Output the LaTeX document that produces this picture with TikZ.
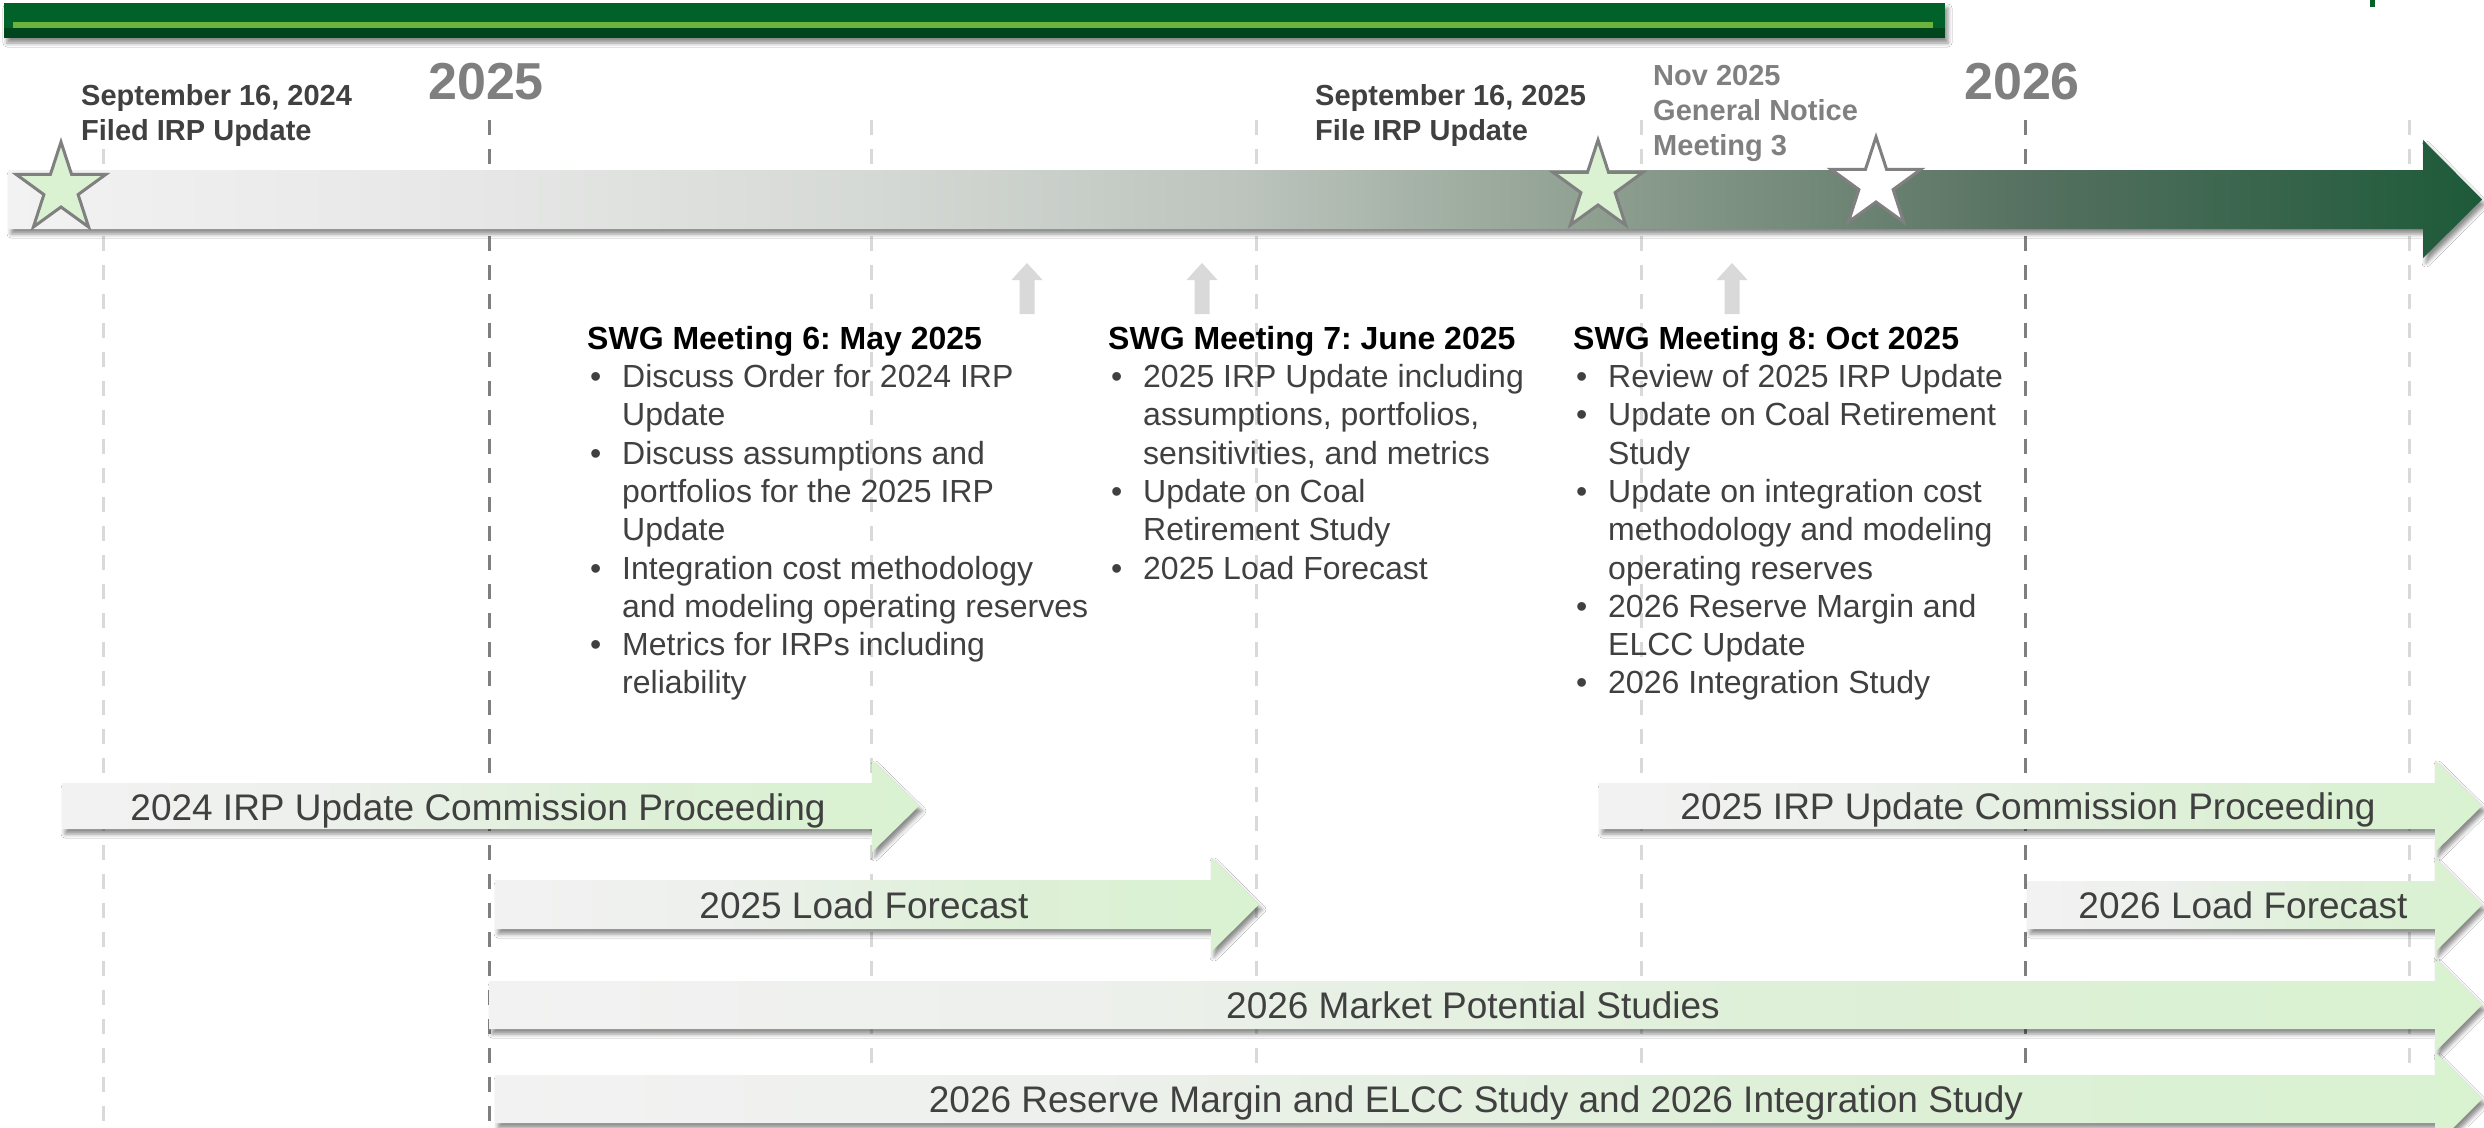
\documentclass[tikz,border=0pt]{standalone}
\usepackage{fontspec}
\setmainfont{Liberation Sans}
\usetikzlibrary{shadows.blur}

% palette
\definecolor{bargreen}{RGB}{0,98,41}
\definecolor{barstripe}{RGB}{108,179,62}
\definecolor{barshade}{RGB}{0,70,29}
\definecolor{txtdark}{RGB}{64,64,64}
\definecolor{yeargray}{RGB}{127,127,127}
\definecolor{notegray}{RGB}{128,128,128}
\definecolor{gridlight}{RGB}{217,217,217}
\definecolor{griddark}{RGB}{127,127,127}
\definecolor{upgray}{RGB}{217,217,217}
\definecolor{starfill}{RGB}{218,242,210}
\definecolor{starline}{RGB}{128,128,128}
% timeline gradient stops
\definecolor{tlA}{RGB}{242,242,242}
\definecolor{tlB}{RGB}{229,230,229}
\definecolor{tlC}{RGB}{213,217,213}
\definecolor{tlD}{RGB}{188,196,189}
\definecolor{tlE}{RGB}{143,160,145}
\definecolor{tlF}{RGB}{85,112,96}
\definecolor{tlG}{RGB}{29,90,57}
% process bar gradient stops
\definecolor{prA}{RGB}{242,242,242}
\definecolor{prB}{RGB}{237,240,236}
\definecolor{prC}{RGB}{222,240,216}
\definecolor{prD}{RGB}{217,242,208}

\pgfdeclarehorizontalshading{timelineshade}{100bp}{color(0bp)=(tlA); color(25bp)=(tlA); color(35bp)=(tlB); color(42.5bp)=(tlC); color(50bp)=(tlD); color(57bp)=(tlE); color(66bp)=(tlF); color(75bp)=(tlG); color(100bp)=(tlG)}
\pgfdeclarehorizontalshading{procshade}{100bp}{color(0bp)=(prA); color(25bp)=(prA); color(40bp)=(prB); color(57.5bp)=(prC); color(75bp)=(prD); color(100bp)=(prD)}

% bullet lines of the meeting notes
\newcommand\itm{\makebox[35pt][l]{\hspace*{3pt}\textbullet}}
\newcommand\cnt{\hspace*{35pt}}

\tikzset{
  softshadow/.style={blur shadow={shadow xshift=3pt, shadow yshift=-5pt, shadow blur radius=4pt, shadow opacity=45}},
  gridq/.style={draw=gridlight, line width=3pt, dash pattern=on 15pt off 14pt},
  gridy/.style={draw=griddark, line width=3pt, dash pattern=on 15pt off 14pt},
  flowbody/.style={shading=procshade, softshadow},
  datelbl/.style={anchor=north west, inner sep=0pt, align=left, font=\fontsize{29}{35}\selectfont\bfseries, text=txtdark},
  notelbl/.style={datelbl, text=notegray},
  yearlbl/.style={anchor=base west, inner sep=0pt, font=\fontsize{52}{62}\selectfont\bfseries, text=yeargray},
  meetlbl/.style={anchor=north west, inner sep=0pt, align=left, font=\fontsize{32}{38.3}\selectfont, text=txtdark},
  flowlbl/.style={anchor=base, inner sep=0pt, font=\fontsize{37}{44}\selectfont, text=txtdark},
  pics/fivestar/.style={code={
    \draw[draw=starline, line width=3pt, miter limit=10, fill=#1]
      (-90:47) -- (-54:18) -- (-18:47) -- (18:18) -- (54:47) -- (90:18)
      -- (126:47) -- (162:18) -- (198:47) -- (234:18) -- cycle;}},
  pics/uparrow/.style={code={
    \fill[upgray] (0,0) -- (15.5,17) -- (7.5,17) -- (7.5,51) -- (-7.5,51)
      -- (-7.5,17) -- (-15.5,17) -- cycle;}},
}

% a process bar: left x, top y, bottom y, head x, tip x
\newcommand\flowarrow[5]{%
  \shade[flowbody] (#1,#2) -- (#4,#2) -- (#4,#2-23) -- (#5,{(#2+#3)/2})
    -- (#4,#3+23) -- (#4,#3) -- (#1,#3) -- cycle;}

\begin{document}
\frenchspacing
\begin{tikzpicture}[x=1pt, y=-1pt]
\useasboundingbox (0,0) rectangle (2484,1127);
\fill[white] (0,0) rectangle (2484,1127);

% title band
\fill[bargreen, softshadow] (4,3) rectangle (1945,38);
\fill[barshade] (4,28) rectangle (1945,38);
\fill[barstripe] (13,22) rectangle (1933,28);
\fill[bargreen] (2370,0) rectangle (2375,7);

% quarter and year grid lines
\draw[gridq] (103,149) -- (103,1127);
\foreach \gx in {871,1256,1641,2409} \draw[gridq] (\gx,120) -- (\gx,1127);
\foreach \gx in {489,2025} \draw[gridy] (\gx,120) -- (\gx,1127);

% main timeline arrow
\shade[shading=timelineshade, softshadow] (8,170) -- (2423,170) -- (2423,140)
  -- (2482,199.5) -- (2423,258) -- (2423,229) -- (8,229) -- cycle;

% milestones
\pic at (61,189) {fivestar=starfill};
\pic at (1598,187) {fivestar=starfill};
\pic at (1876,184) {fivestar=white};

% meeting pointers
\pic at (1027,263) {uparrow};
\pic at (1202,263) {uparrow};
\pic at (1732,263) {uparrow};

% dates and years
\node[datelbl] (filed24) at (81,76) {\rule{0pt}{29pt}September 16, 2024\\Filed IRP Update};
\node[yearlbl] (y2025) at (428,99) {2025};
\node[datelbl] (file25) at (1315,76) {\rule{0pt}{29pt}September 16, 2025\\File IRP Update};
\node[notelbl] (notice) at (1653,56) {\rule{0pt}{29pt}Nov 2025\\General Notice\\Meeting 3};
\node[yearlbl] (y2026) at (1964,99) {2026};

% meeting notes
\node[meetlbl] (swg6) at (587,317) {\rule{0pt}{32pt}{\bfseries\color{black}SWG Meeting 6: May 2025}\\
\itm Discuss Order for 2024 IRP\\
\cnt Update\\
\itm Discuss assumptions and\\
\cnt portfolios for the 2025 IRP\\
\cnt Update\\
\itm Integration cost methodology\\
\cnt and modeling operating reserves\\
\itm Metrics for IRPs including\\
\cnt reliability};

\node[meetlbl] (swg7) at (1108,317) {\rule{0pt}{32pt}{\bfseries\color{black}SWG Meeting 7: June 2025}\\
\itm 2025 IRP Update including\\
\cnt assumptions, portfolios,\\
\cnt sensitivities, and metrics\\
\itm Update on Coal\\
\cnt Retirement Study\\
\itm 2025 Load Forecast};

\node[meetlbl] (swg8) at (1573,317) {\rule{0pt}{32pt}{\bfseries\color{black}SWG Meeting 8: Oct 2025}\\
\itm Review of 2025 IRP Update\\
\itm Update on Coal Retirement\\
\cnt Study\\
\itm Update on integration cost\\
\cnt methodology and modeling\\
\cnt operating reserves\\
\itm 2026 Reserve Margin and\\
\cnt ELCC Update\\
\itm 2026 Integration Study};

% process bars
\flowarrow{62}{783}{829}{872}{919}
\flowarrow{495}{880}{929}{1211}{1259}
\flowarrow{489}{981}{1029}{2435}{2482}
\flowarrow{495}{1075}{1123}{2435}{2482}
\flowarrow{1599}{783}{829}{2435}{2482}
\flowarrow{2027}{881}{929}{2435}{2482}

\node[flowlbl] (proc24) at (478,820) {2024 IRP Update Commission Proceeding};
\node[flowlbl] (load25) at (864,918) {2025 Load Forecast};
\node[flowlbl] (market) at (1473,1018) {2026 Market Potential Studies};
\node[flowlbl] (reserve) at (1476,1112) {2026 Reserve Margin and ELCC Study and 2026 Integration Study};
\node[flowlbl] (proc25) at (2028,819) {2025 IRP Update Commission Proceeding};
\node[flowlbl] (load26) at (2243,918) {2026 Load Forecast};
\end{tikzpicture}
\end{document}
